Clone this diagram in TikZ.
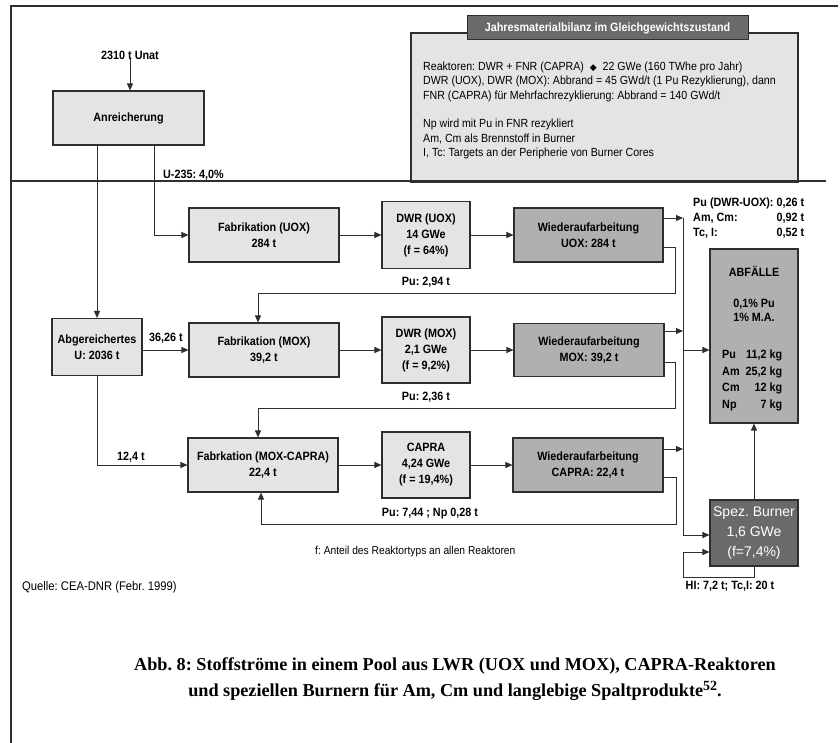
\documentclass[tikz,border=0pt]{standalone}
\usepackage{fontspec}
\setmainfont{Liberation Sans}
\newfontfamily\nar[FakeStretch=0.9]{Liberation Sans}
\newfontfamily\capfont{Liberation Serif}
\newfontfamily\symfont{DejaVu Sans}
\usetikzlibrary{arrows.meta,calc}
\definecolor{lc}{HTML}{2E2E2E}
\definecolor{lightfill}{HTML}{E4E4E4}
\definecolor{midfill}{HTML}{B0B0B0}
\definecolor{darkfill}{HTML}{6A6A6A}
\frenchspacing
\tikzset{
 lbox/.style={draw=lc, fill=lightfill, line width=1.1pt, inner sep=0pt, align=center, font=\nar\bfseries\fontsize{12}{16}\selectfont},
 dbox/.style={lbox, fill=midfill},
 flow/.style={draw=lc, line width=0.9pt, -{Triangle[length=7pt,width=6pt]}},
 link/.style={draw=lc, line width=0.9pt},
 lab/.style={font=\nar\bfseries\fontsize{12}{15}\selectfont, inner sep=0pt, text=black},
 note/.style={font=\nar\fontsize{11.8}{14.4}\selectfont, inner sep=0pt, align=left},
}
\begin{document}
\begin{tikzpicture}[x=1pt,y=-1pt]
\useasboundingbox (0,0) rectangle (840,743);
% frame
\draw[lc, line width=1.3pt] (11,743) -- (11,6) -- (838,6);
% summary box
\node[draw=lc, fill=lightfill, line width=1.1pt, minimum width=387pt, minimum height=149pt, inner sep=0pt] (bil) at (604.5,107.5) {};
\node[draw=lc, fill=darkfill, line width=1pt, minimum width=281pt, minimum height=24pt, inner sep=0pt, text=white, font=\nar\bfseries\fontsize{12}{15}\selectfont] (bilt) at (607.5,28) {Jahresmaterialbilanz im Gleichgewichtszustand};
\node[note, anchor=north west] (bilx) at (423,61.5) {Reaktoren: DWR + FNR (CAPRA) \ {\symfont\fontsize{9}{9}\selectfont ◆} \ 22 GWe (160 TWhe pro Jahr)\\
DWR (UOX), DWR (MOX): Abbrand = 45 GWd/t (1 Pu Rezyklierung), dann\\
FNR (CAPRA) für Mehrfachrezyklierung: Abbrand = 140 GWd/t\\[14.4pt]
Np wird mit Pu in FNR rezykliert\\
Am, Cm als Brennstoff in Burner\\
I, Tc: Targets an der Peripherie von Burner Cores};
% divider
\draw[lc, line width=1.8pt] (10,181) -- (826,181);
% boxes
\node[lbox, minimum width=151pt, minimum height=54pt] (anr) at (128.5,118) {Anreicherung};
\node[lbox, minimum width=150pt, minimum height=54pt] (fuox) at (264,235) {Fabrikation (UOX)\\284 t};
\node[lbox, minimum width=88pt, minimum height=67pt] (duox) at (426,235) {DWR (UOX)\\14 GWe\\(f = 64\%)};
\node[dbox, minimum width=149pt, minimum height=54pt] (wuox) at (588.5,235) {Wiederaufarbeitung\\UOX: 284 t};
\node[lbox, minimum width=90pt, minimum height=57pt] (abg) at (97,347) {Abgereichertes\\U: 2036 t};
\node[lbox, minimum width=150pt, minimum height=54pt] (fmox) at (264,350) {Fabrikation (MOX)\\39,2 t};
\node[lbox, minimum width=88pt, minimum height=66pt] (dmox) at (426,350) {DWR (MOX)\\2,1 GWe\\(f = 9,2\%)};
\node[dbox, minimum width=150pt, minimum height=53pt] (wmox) at (589,350) {Wiederaufarbeitung\\MOX: 39,2 t};
\node[lbox, minimum width=150pt, minimum height=54pt] (fcap) at (263,465) {Fabrkation (MOX-CAPRA)\\22,4 t};
\node[lbox, minimum width=88pt, minimum height=66pt] (dcap) at (426,465) {CAPRA\\4,24 GWe\\(f = 19,4\%)};
\node[dbox, minimum width=150pt, minimum height=54pt] (wcap) at (588,465) {Wiederaufarbeitung\\CAPRA: 22,4 t};
\node[dbox, minimum width=88pt, minimum height=174pt] (abf) at (754,336) {};
\node[draw=lc, fill=darkfill, line width=1.1pt, minimum width=88pt, minimum height=66pt, inner sep=0pt, align=center, text=white, font=\fontsize{14}{20}\selectfont] (burn) at (754,533) {Spez. Burner\\1,6 GWe\\(f=7,4\%)};
% waste texts
\node[lab] (abft) at (754,271) {ABFÄLLE};
\node[lab, align=center, font=\nar\bfseries\fontsize{12}{14}\selectfont] (abfp) at (754,310) {0,1\% Pu\\1\% M.A.};
\node[lab, anchor=north west, font=\nar\bfseries\fontsize{12}{16.5}\selectfont] (abfm) at (722,347) {\begin{tabular}{@{}l@{\hspace{6pt}}r@{}}Pu & 11,2 kg\\Am & 25,2 kg\\Cm & 12 kg\\Np & 7 kg\end{tabular}};
\node[lab, anchor=north west] (waste) at (693,196) {\begin{tabular}{@{}l@{\hspace{3pt}}r@{}}Pu (DWR-UOX): & 0,26 t\\Am, Cm: & 0,92 t\\Tc, I: & 0,52 t\end{tabular}};
% labels
\node[lab] (unat) at (130,55) {2310 t Unat};
\node[lab, anchor=west] (u235) at (163,175) {U-235: 4,0\%};
\node[lab] (m1) at (166,338) {36,26 t};
\node[lab] (m2) at (131,457) {12,4 t};
\node[lab] (pu1) at (426,282) {Pu: 2,94 t};
\node[lab] (pu2) at (426,397) {Pu: 2,36 t};
\node[lab] (pu3) at (430,514) {Pu: 7,44 ; Np 0,28 t};
\node[lab] (hi) at (730,586) {HI: 7,2 t; Tc,I: 20 t};
\node[note, anchor=west, font=\nar\fontsize{11.4}{14}\selectfont] (fnote) at (315,552) {f: Anteil des Reaktortyps an allen Reaktoren};
\node[note, anchor=west, font=\nar\fontsize{12.5}{14}\selectfont] (src) at (22,587) {Quelle: CEA-DNR (Febr. 1999)};
\node[align=center, inner sep=0pt, font=\capfont\bfseries\fontsize{18.2}{25.5}\selectfont] (cap) at (455,679) {Abb. 8: Stoffströme in einem Pool aus LWR (UOX und MOX), CAPRA-Reaktoren\\und speziellen Burnern für Am, Cm und langlebige Spaltprodukte\raisebox{5.5pt}{\fontsize{14}{14}\selectfont 52}.};
% connectors
\draw[flow] (unat.south) -- (unat.south |- anr.north);
\draw[flow] (abg.north |- anr.south) -- (abg.north);
\draw[flow] ([xshift=25.5pt]anr.south) |- (fuox.west);
\draw[flow] (fuox) -- (duox);
\draw[flow] (duox) -- (wuox);
\draw[flow] (abg.east |- fmox.west) -- (fmox.west);
\draw[flow] (fmox) -- (dmox);
\draw[flow] (dmox) -- (wmox);
\draw[flow] (abg.south) |- (fcap.west);
\draw[flow] (fcap) -- (dcap);
\draw[flow] (dcap) -- (wcap);
% collector bus
\coordinate (bus) at (683,218);
\coordinate (busend) at (683,535);
\draw[link] (bus) -- (busend);
\draw[flow] ([yshift=17pt]wuox.east) -- (bus);
\draw[flow] ([yshift=19pt]wmox.east) -- ([yshift=19pt]wmox.east -| bus);
\draw[flow] ([yshift=16pt]wcap.east) -- ([yshift=16pt]wcap.east -| bus);
\draw[flow] (bus |- fmox.east) -- (abf.west |- fmox.east);
\draw[flow] (busend) -- (busend -| burn.west);
% recycle loops
\coordinate (r1) at (675,293);
\coordinate (r2) at (675,408);
\coordinate (r3) at (676,524);
\draw[flow] ([yshift=-12pt]wuox.east) -| (r1) -| ([xshift=-6pt]fmox.north);
\draw[flow] ([yshift=-12pt]wmox.east) -| (r2) -| ([xshift=-5pt]fcap.north);
\draw[flow] ([yshift=-12pt]wcap.east) -| (r3) -| ([xshift=-2pt]fcap.south);
% burner
\coordinate (bl) at (683,577);
\draw[flow] (burn.south) |- (bl) |- ([yshift=-19pt]burn.west);
\draw[flow] (burn.north) -- (abf.south);
\end{tikzpicture}
\end{document}
